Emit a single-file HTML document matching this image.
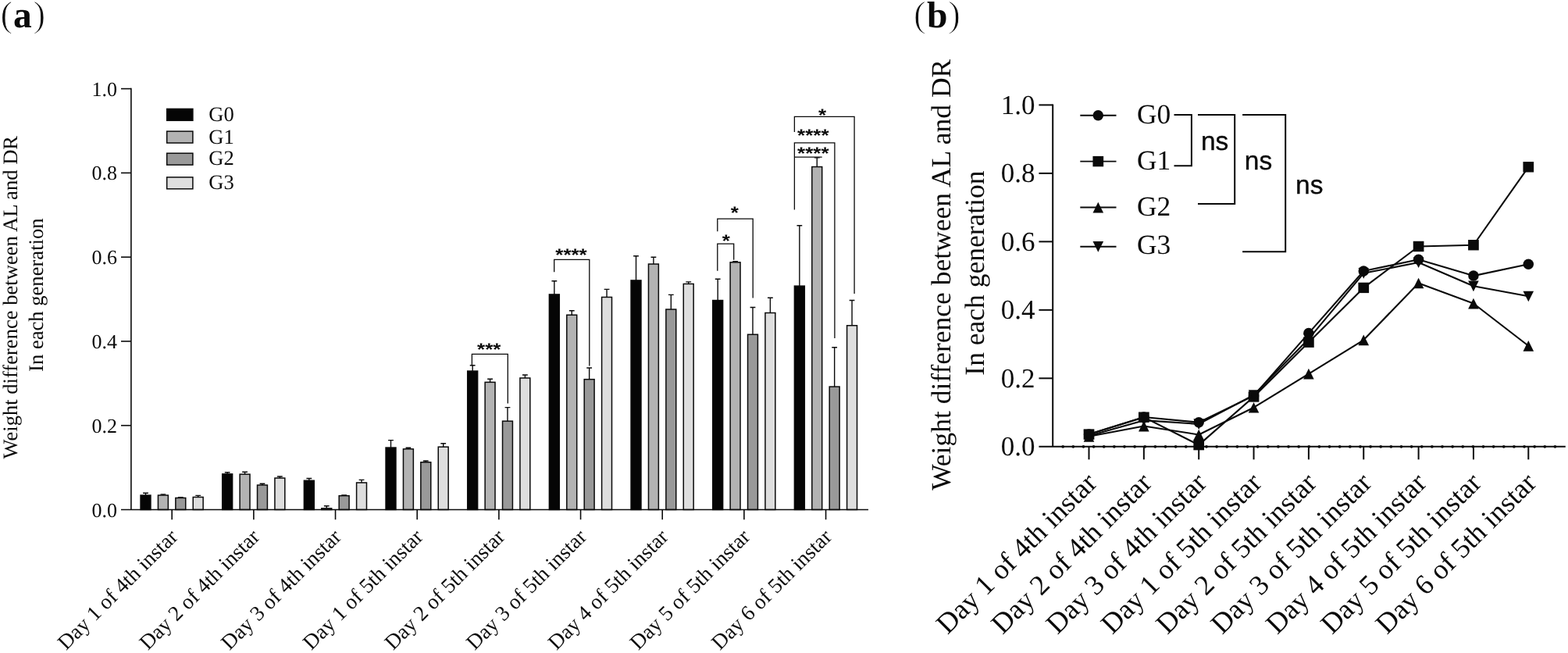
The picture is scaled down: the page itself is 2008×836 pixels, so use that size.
<!DOCTYPE html>
<html lang="en">
<head>
<meta charset="utf-8">
<title>Weight difference between AL and DR in each generation</title>
<style>
html,body{margin:0;padding:0;background:#fff;}
body{width:2008px;height:836px;overflow:hidden;}
svg{display:block;}
text{white-space:pre;}
</style>
</head>
<body>
<svg width="2008" height="836" viewBox="0 0 2008 836" text-rendering="geometricPrecision">
<rect width="2008" height="836" fill="#fff"/>
<g id="panelA" font-family='"Liberation Serif", serif' fill="#0a0a0a">
<path d="M186.50 634.05V631.30M183.10 631.30H189.90" stroke="#0a0a0a" stroke-width="1.4" fill="none"/>
<rect x="180.05" y="634.05" width="12.9" height="18.45" fill="#050505" stroke="#0a0a0a" stroke-width="1.5"/>
<path d="M208.90 634.05V632.90M205.50 632.90H212.30" stroke="#0a0a0a" stroke-width="1.4" fill="none"/>
<rect x="202.45" y="634.05" width="12.9" height="18.45" fill="#b3b3b3" stroke="#0a0a0a" stroke-width="1.5"/>
<path d="M231.30 637.45V636.70M227.90 636.70H234.70" stroke="#0a0a0a" stroke-width="1.4" fill="none"/>
<rect x="224.85" y="637.45" width="12.9" height="15.05" fill="#999999" stroke="#0a0a0a" stroke-width="1.5"/>
<path d="M253.70 636.45V634.40M250.30 634.40H257.10" stroke="#0a0a0a" stroke-width="1.4" fill="none"/>
<rect x="247.25" y="636.45" width="12.9" height="16.05" fill="#dedede" stroke="#0a0a0a" stroke-width="1.5"/>
<path d="M291.17 606.85V604.80M287.77 604.80H294.57" stroke="#0a0a0a" stroke-width="1.4" fill="none"/>
<rect x="284.72" y="606.85" width="12.9" height="45.65" fill="#050505" stroke="#0a0a0a" stroke-width="1.5"/>
<path d="M313.57 607.15V604.20M310.17 604.20H316.97" stroke="#0a0a0a" stroke-width="1.4" fill="none"/>
<rect x="307.12" y="607.15" width="12.9" height="45.35" fill="#b3b3b3" stroke="#0a0a0a" stroke-width="1.5"/>
<path d="M335.97 621.05V619.20M332.57 619.20H339.37" stroke="#0a0a0a" stroke-width="1.4" fill="none"/>
<rect x="329.52" y="621.05" width="12.9" height="31.45" fill="#999999" stroke="#0a0a0a" stroke-width="1.5"/>
<path d="M358.37 612.05V610.00M354.97 610.00H361.77" stroke="#0a0a0a" stroke-width="1.4" fill="none"/>
<rect x="351.92" y="612.05" width="12.9" height="40.45" fill="#dedede" stroke="#0a0a0a" stroke-width="1.5"/>
<path d="M395.84 615.25V612.50M392.44 612.50H399.24" stroke="#0a0a0a" stroke-width="1.4" fill="none"/>
<rect x="389.39" y="615.25" width="12.9" height="37.25" fill="#050505" stroke="#0a0a0a" stroke-width="1.5"/>
<path d="M418.24 650.85V647.80M414.84 647.80H421.64" stroke="#0a0a0a" stroke-width="1.4" fill="none"/>
<rect x="411.79" y="650.85" width="12.9" height="1.65" fill="#b3b3b3" stroke="#0a0a0a" stroke-width="1.5"/>
<path d="M440.64 634.65V634.00M437.24 634.00H444.04" stroke="#0a0a0a" stroke-width="1.4" fill="none"/>
<rect x="434.19" y="634.65" width="12.9" height="17.85" fill="#999999" stroke="#0a0a0a" stroke-width="1.5"/>
<path d="M463.04 617.95V614.40M459.64 614.40H466.44" stroke="#0a0a0a" stroke-width="1.4" fill="none"/>
<rect x="456.59" y="617.95" width="12.9" height="34.55" fill="#dedede" stroke="#0a0a0a" stroke-width="1.5"/>
<path d="M500.51 573.05V563.60M497.11 563.60H503.91" stroke="#0a0a0a" stroke-width="1.4" fill="none"/>
<rect x="494.06" y="573.05" width="12.9" height="79.45" fill="#050505" stroke="#0a0a0a" stroke-width="1.5"/>
<path d="M522.91 574.85V573.30M519.51 573.30H526.31" stroke="#0a0a0a" stroke-width="1.4" fill="none"/>
<rect x="516.46" y="574.85" width="12.9" height="77.65" fill="#b3b3b3" stroke="#0a0a0a" stroke-width="1.5"/>
<path d="M545.31 591.75V590.00M541.91 590.00H548.71" stroke="#0a0a0a" stroke-width="1.4" fill="none"/>
<rect x="538.86" y="591.75" width="12.9" height="60.75" fill="#999999" stroke="#0a0a0a" stroke-width="1.5"/>
<path d="M567.71 572.15V567.80M564.31 567.80H571.11" stroke="#0a0a0a" stroke-width="1.4" fill="none"/>
<rect x="561.26" y="572.15" width="12.9" height="80.35" fill="#dedede" stroke="#0a0a0a" stroke-width="1.5"/>
<path d="M605.18 475.05V467.70M601.78 467.70H608.58" stroke="#0a0a0a" stroke-width="1.4" fill="none"/>
<rect x="598.73" y="475.05" width="12.9" height="177.45" fill="#050505" stroke="#0a0a0a" stroke-width="1.5"/>
<path d="M627.58 489.35V485.20M624.18 485.20H630.98" stroke="#0a0a0a" stroke-width="1.4" fill="none"/>
<rect x="621.13" y="489.35" width="12.9" height="163.15" fill="#b3b3b3" stroke="#0a0a0a" stroke-width="1.5"/>
<path d="M649.98 539.15V521.60M646.58 521.60H653.38" stroke="#0a0a0a" stroke-width="1.4" fill="none"/>
<rect x="643.53" y="539.15" width="12.9" height="113.35" fill="#999999" stroke="#0a0a0a" stroke-width="1.5"/>
<path d="M672.38 483.95V480.00M668.98 480.00H675.78" stroke="#0a0a0a" stroke-width="1.4" fill="none"/>
<rect x="665.93" y="483.95" width="12.9" height="168.55" fill="#dedede" stroke="#0a0a0a" stroke-width="1.5"/>
<path d="M709.85 376.95V359.70M706.45 359.70H713.25" stroke="#0a0a0a" stroke-width="1.4" fill="none"/>
<rect x="703.40" y="376.95" width="12.9" height="275.55" fill="#050505" stroke="#0a0a0a" stroke-width="1.5"/>
<path d="M732.25 403.25V397.70M728.85 397.70H735.65" stroke="#0a0a0a" stroke-width="1.4" fill="none"/>
<rect x="725.80" y="403.25" width="12.9" height="249.25" fill="#b3b3b3" stroke="#0a0a0a" stroke-width="1.5"/>
<path d="M754.65 485.65V471.00M751.25 471.00H758.05" stroke="#0a0a0a" stroke-width="1.4" fill="none"/>
<rect x="748.20" y="485.65" width="12.9" height="166.85" fill="#999999" stroke="#0a0a0a" stroke-width="1.5"/>
<path d="M777.05 380.45V370.40M773.65 370.40H780.45" stroke="#0a0a0a" stroke-width="1.4" fill="none"/>
<rect x="770.60" y="380.45" width="12.9" height="272.05" fill="#dedede" stroke="#0a0a0a" stroke-width="1.5"/>
<path d="M814.52 358.95V327.80M811.12 327.80H817.92" stroke="#0a0a0a" stroke-width="1.4" fill="none"/>
<rect x="808.07" y="358.95" width="12.9" height="293.55" fill="#050505" stroke="#0a0a0a" stroke-width="1.5"/>
<path d="M836.92 338.05V329.30M833.52 329.30H840.32" stroke="#0a0a0a" stroke-width="1.4" fill="none"/>
<rect x="830.47" y="338.05" width="12.9" height="314.45" fill="#b3b3b3" stroke="#0a0a0a" stroke-width="1.5"/>
<path d="M859.32 396.05V377.40M855.92 377.40H862.72" stroke="#0a0a0a" stroke-width="1.4" fill="none"/>
<rect x="852.87" y="396.05" width="12.9" height="256.45" fill="#999999" stroke="#0a0a0a" stroke-width="1.5"/>
<path d="M881.72 363.45V360.90M878.32 360.90H885.12" stroke="#0a0a0a" stroke-width="1.4" fill="none"/>
<rect x="875.27" y="363.45" width="12.9" height="289.05" fill="#dedede" stroke="#0a0a0a" stroke-width="1.5"/>
<path d="M919.19 384.55V357.30M915.79 357.30H922.59" stroke="#0a0a0a" stroke-width="1.4" fill="none"/>
<rect x="912.74" y="384.55" width="12.9" height="267.95" fill="#050505" stroke="#0a0a0a" stroke-width="1.5"/>
<path d="M941.59 335.85V334.60M938.19 334.60H944.99" stroke="#0a0a0a" stroke-width="1.4" fill="none"/>
<rect x="935.14" y="335.85" width="12.9" height="316.65" fill="#b3b3b3" stroke="#0a0a0a" stroke-width="1.5"/>
<path d="M963.99 428.25V393.50M960.59 393.50H967.39" stroke="#0a0a0a" stroke-width="1.4" fill="none"/>
<rect x="957.54" y="428.25" width="12.9" height="224.25" fill="#999999" stroke="#0a0a0a" stroke-width="1.5"/>
<path d="M986.39 400.55V381.20M982.99 381.20H989.79" stroke="#0a0a0a" stroke-width="1.4" fill="none"/>
<rect x="979.94" y="400.55" width="12.9" height="251.95" fill="#dedede" stroke="#0a0a0a" stroke-width="1.5"/>
<path d="M1023.86 366.15V288.70M1020.46 288.70H1027.26" stroke="#0a0a0a" stroke-width="1.4" fill="none"/>
<rect x="1017.41" y="366.15" width="12.9" height="286.35" fill="#050505" stroke="#0a0a0a" stroke-width="1.5"/>
<path d="M1046.26 213.55V201.90M1042.86 201.90H1049.66" stroke="#0a0a0a" stroke-width="1.4" fill="none"/>
<rect x="1039.81" y="213.55" width="12.9" height="438.95" fill="#b3b3b3" stroke="#0a0a0a" stroke-width="1.5"/>
<path d="M1068.66 495.05V444.80M1065.26 444.80H1072.06" stroke="#0a0a0a" stroke-width="1.4" fill="none"/>
<rect x="1062.21" y="495.05" width="12.9" height="157.45" fill="#999999" stroke="#0a0a0a" stroke-width="1.5"/>
<path d="M1091.06 416.75V384.50M1087.66 384.50H1094.46" stroke="#0a0a0a" stroke-width="1.4" fill="none"/>
<rect x="1084.61" y="416.75" width="12.9" height="235.75" fill="#dedede" stroke="#0a0a0a" stroke-width="1.5"/>
<path d="M167.9 112.80V652.5" stroke="#0a0a0a" stroke-width="1.6" fill="none"/>
<path d="M155.0 652.5H1112.0" stroke="#0a0a0a" stroke-width="1.6" fill="none"/>
<text x="149.9" y="661.50" font-size="26" text-anchor="end">0.0</text>
<path d="M155.0 544.72H167.9" stroke="#0a0a0a" stroke-width="1.6" fill="none"/>
<text x="149.9" y="553.72" font-size="26" text-anchor="end">0.2</text>
<path d="M155.0 436.94H167.9" stroke="#0a0a0a" stroke-width="1.6" fill="none"/>
<text x="149.9" y="445.94" font-size="26" text-anchor="end">0.4</text>
<path d="M155.0 329.16H167.9" stroke="#0a0a0a" stroke-width="1.6" fill="none"/>
<text x="149.9" y="338.16" font-size="26" text-anchor="end">0.6</text>
<path d="M155.0 221.38H167.9" stroke="#0a0a0a" stroke-width="1.6" fill="none"/>
<text x="149.9" y="230.38" font-size="26" text-anchor="end">0.8</text>
<path d="M155.0 113.60H167.9" stroke="#0a0a0a" stroke-width="1.6" fill="none"/>
<text x="149.9" y="122.60" font-size="26" text-anchor="end">1.0</text>
<path d="M220.20 652.5V665.2" stroke="#0a0a0a" stroke-width="1.6" fill="none"/>
<text transform="translate(229.20 688.8) rotate(-45)" font-size="27.25" text-anchor="end">Day 1 of 4th instar</text>
<path d="M324.87 652.5V665.2" stroke="#0a0a0a" stroke-width="1.6" fill="none"/>
<text transform="translate(333.87 688.8) rotate(-45)" font-size="27.25" text-anchor="end">Day 2 of 4th instar</text>
<path d="M429.54 652.5V665.2" stroke="#0a0a0a" stroke-width="1.6" fill="none"/>
<text transform="translate(438.54 688.8) rotate(-45)" font-size="27.25" text-anchor="end">Day 3 of 4th instar</text>
<path d="M534.21 652.5V665.2" stroke="#0a0a0a" stroke-width="1.6" fill="none"/>
<text transform="translate(543.21 688.8) rotate(-45)" font-size="27.25" text-anchor="end">Day 1 of 5th instar</text>
<path d="M638.88 652.5V665.2" stroke="#0a0a0a" stroke-width="1.6" fill="none"/>
<text transform="translate(647.88 688.8) rotate(-45)" font-size="27.25" text-anchor="end">Day 2 of 5th instar</text>
<path d="M743.55 652.5V665.2" stroke="#0a0a0a" stroke-width="1.6" fill="none"/>
<text transform="translate(752.55 688.8) rotate(-45)" font-size="27.25" text-anchor="end">Day 3 of 5th instar</text>
<path d="M848.22 652.5V665.2" stroke="#0a0a0a" stroke-width="1.6" fill="none"/>
<text transform="translate(857.22 688.8) rotate(-45)" font-size="27.25" text-anchor="end">Day 4 of 5th instar</text>
<path d="M952.89 652.5V665.2" stroke="#0a0a0a" stroke-width="1.6" fill="none"/>
<text transform="translate(961.89 688.8) rotate(-45)" font-size="27.25" text-anchor="end">Day 5 of 5th instar</text>
<path d="M1057.56 652.5V665.2" stroke="#0a0a0a" stroke-width="1.6" fill="none"/>
<text transform="translate(1066.56 688.8) rotate(-45)" font-size="27.25" text-anchor="end">Day 6 of 5th instar</text>
<rect x="213.7" y="139.40" width="33.2" height="14.9" fill="#050505" stroke="#0a0a0a" stroke-width="1.5"/>
<text x="267.2" y="154.60" font-size="26.6">G0</text>
<rect x="213.7" y="168.10" width="33.2" height="14.9" fill="#b3b3b3" stroke="#0a0a0a" stroke-width="1.5"/>
<text x="267.2" y="183.80" font-size="26.6">G1</text>
<rect x="213.7" y="196.20" width="33.2" height="14.9" fill="#999999" stroke="#0a0a0a" stroke-width="1.5"/>
<text x="267.2" y="211.10" font-size="26.6">G2</text>
<rect x="213.7" y="226.90" width="33.2" height="14.9" fill="#dedede" stroke="#0a0a0a" stroke-width="1.5"/>
<text x="267.2" y="242.10" font-size="26.6">G3</text>
<text transform="translate(22.4 380.7) rotate(-90)" font-size="26.6" text-anchor="middle">Weight difference between AL and DR</text>
<text transform="translate(55.1 377.7) rotate(-90)" font-size="26.6" text-anchor="middle">In each generation</text>
<text x="0.40" y="34.3" font-size="47" stroke="#fff" stroke-width="1.0">(</text>
<text x="16.90" y="35.3" font-size="47.5" font-weight="bold">a</text>
<text x="42.60" y="34.3" font-size="47" stroke="#fff" stroke-width="1.0">)</text>
<path d="M604.4 467.5V453.3H650.3V516.5" stroke="#0a0a0a" stroke-width="1.3" fill="none"/>
<text transform="translate(626.20 455.00) scale(1 0.87)" font-family='"Liberation Sans", sans-serif' font-weight="bold" font-size="26" text-anchor="middle">***</text>
<path d="M709.7 348.3V332.3H754.8V468.6" stroke="#0a0a0a" stroke-width="1.3" fill="none"/>
<text transform="translate(731.50 333.80) scale(1 0.87)" font-family='"Liberation Sans", sans-serif' font-weight="bold" font-size="26" text-anchor="middle">****</text>
<path d="M918.8 296.2V280.1H964.2V381.6" stroke="#0a0a0a" stroke-width="1.3" fill="none"/>
<text transform="translate(940.80 279.80) scale(1 0.87)" font-family='"Liberation Sans", sans-serif' font-weight="bold" font-size="26" text-anchor="middle">*</text>
<path d="M918.8 346.8V312.1H939.7V332.8" stroke="#0a0a0a" stroke-width="1.3" fill="none"/>
<text transform="translate(929.80 316.20) scale(1 0.87)" font-family='"Liberation Sans", sans-serif' font-weight="bold" font-size="26" text-anchor="middle">*</text>
<path d="M1017.4 169V149.3H1094.1V376" stroke="#0a0a0a" stroke-width="1.3" fill="none"/>
<text transform="translate(1053.00 155.40) scale(1 0.87)" font-family='"Liberation Sans", sans-serif' font-weight="bold" font-size="26" text-anchor="middle">*</text>
<path d="M1017.4 268.4V182.8H1068.9V433" stroke="#0a0a0a" stroke-width="1.3" fill="none"/>
<text transform="translate(1041.30 181.20) scale(1 0.87)" font-family='"Liberation Sans", sans-serif' font-weight="bold" font-size="26" text-anchor="middle">****</text>
<path d="M1017.4 201.2H1052.7" stroke="#0a0a0a" stroke-width="1.3" fill="none"/>
<text transform="translate(1041.30 203.90) scale(1 0.87)" font-family='"Liberation Sans", sans-serif' font-weight="bold" font-size="26" text-anchor="middle">****</text>
</g>
<g id="panelB" font-family='"Liberation Serif", serif' fill="#0a0a0a">
<path d="M1348.2 133.50V571.8" stroke="#0a0a0a" stroke-width="2.0" fill="none"/>
<path d="M1330.4 571.8H2004.8" stroke="#0a0a0a" stroke-width="2.0" fill="none"/>
<path d="M1361.2 571.8H1992.5" stroke="#0a0a0a" stroke-width="3.8" stroke-linecap="round" stroke-dasharray="0 13.13" fill="none"/>
<text x="1325.6" y="583.40" font-size="35" text-anchor="end">0.0</text>
<path d="M1330.4 484.32H1348.2" stroke="#0a0a0a" stroke-width="2.0" fill="none"/>
<text x="1325.6" y="495.92" font-size="35" text-anchor="end">0.2</text>
<path d="M1330.4 396.84H1348.2" stroke="#0a0a0a" stroke-width="2.0" fill="none"/>
<text x="1325.6" y="408.44" font-size="35" text-anchor="end">0.4</text>
<path d="M1330.4 309.36H1348.2" stroke="#0a0a0a" stroke-width="2.0" fill="none"/>
<text x="1325.6" y="320.96" font-size="35" text-anchor="end">0.6</text>
<path d="M1330.4 221.88H1348.2" stroke="#0a0a0a" stroke-width="2.0" fill="none"/>
<text x="1325.6" y="233.48" font-size="35" text-anchor="end">0.8</text>
<path d="M1330.4 134.40H1348.2" stroke="#0a0a0a" stroke-width="2.0" fill="none"/>
<text x="1325.6" y="146.00" font-size="35" text-anchor="end">1.0</text>
<path d="M1394.50 571.8V588.3" stroke="#0a0a0a" stroke-width="2.0" fill="none"/>
<text transform="translate(1406.50 620.2) rotate(-45)" font-size="36.4" text-anchor="end">Day 1 of 4th instar</text>
<path d="M1464.85 571.8V588.3" stroke="#0a0a0a" stroke-width="2.0" fill="none"/>
<text transform="translate(1476.85 620.2) rotate(-45)" font-size="36.4" text-anchor="end">Day 2 of 4th instar</text>
<path d="M1535.20 571.8V588.3" stroke="#0a0a0a" stroke-width="2.0" fill="none"/>
<text transform="translate(1547.20 620.2) rotate(-45)" font-size="36.4" text-anchor="end">Day 3 of 4th instar</text>
<path d="M1605.55 571.8V588.3" stroke="#0a0a0a" stroke-width="2.0" fill="none"/>
<text transform="translate(1617.55 620.2) rotate(-45)" font-size="36.4" text-anchor="end">Day 1 of 5th instar</text>
<path d="M1675.90 571.8V588.3" stroke="#0a0a0a" stroke-width="2.0" fill="none"/>
<text transform="translate(1687.90 620.2) rotate(-45)" font-size="36.4" text-anchor="end">Day 2 of 5th instar</text>
<path d="M1746.25 571.8V588.3" stroke="#0a0a0a" stroke-width="2.0" fill="none"/>
<text transform="translate(1758.25 620.2) rotate(-45)" font-size="36.4" text-anchor="end">Day 3 of 5th instar</text>
<path d="M1816.60 571.8V588.3" stroke="#0a0a0a" stroke-width="2.0" fill="none"/>
<text transform="translate(1828.60 620.2) rotate(-45)" font-size="36.4" text-anchor="end">Day 4 of 5th instar</text>
<path d="M1886.95 571.8V588.3" stroke="#0a0a0a" stroke-width="2.0" fill="none"/>
<text transform="translate(1898.95 620.2) rotate(-45)" font-size="36.4" text-anchor="end">Day 5 of 5th instar</text>
<path d="M1957.30 571.8V588.3" stroke="#0a0a0a" stroke-width="2.0" fill="none"/>
<text transform="translate(1969.30 620.2) rotate(-45)" font-size="36.4" text-anchor="end">Day 6 of 5th instar</text>
<path d="M1394.50 556.05L1464.85 533.96L1535.20 540.74L1605.55 506.63L1675.90 426.58L1746.25 346.98L1816.60 332.32L1886.95 353.10L1957.30 338.23" stroke="#0a0a0a" stroke-width="2.1" fill="none" stroke-linejoin="round"/>
<circle cx="1394.50" cy="556.05" r="6.75"/>
<circle cx="1464.85" cy="533.96" r="6.75"/>
<circle cx="1535.20" cy="540.74" r="6.75"/>
<circle cx="1605.55" cy="506.63" r="6.75"/>
<circle cx="1675.90" cy="426.58" r="6.75"/>
<circle cx="1746.25" cy="346.98" r="6.75"/>
<circle cx="1816.60" cy="332.32" r="6.75"/>
<circle cx="1886.95" cy="353.10" r="6.75"/>
<circle cx="1957.30" cy="338.23" r="6.75"/>
<path d="M1394.50 556.05L1464.85 534.18L1535.20 569.61L1605.55 507.94L1675.90 438.17L1746.25 368.41L1816.60 315.48L1886.95 313.73L1957.30 213.79" stroke="#0a0a0a" stroke-width="2.1" fill="none" stroke-linejoin="round"/>
<rect x="1387.65" y="549.35" width="13.7" height="13.4"/>
<rect x="1458.00" y="527.48" width="13.7" height="13.4"/>
<rect x="1528.35" y="562.91" width="13.7" height="13.4"/>
<rect x="1598.70" y="501.24" width="13.7" height="13.4"/>
<rect x="1669.05" y="431.47" width="13.7" height="13.4"/>
<rect x="1739.40" y="361.71" width="13.7" height="13.4"/>
<rect x="1809.75" y="308.78" width="13.7" height="13.4"/>
<rect x="1880.10" y="307.03" width="13.7" height="13.4"/>
<rect x="1950.45" y="207.09" width="13.7" height="13.4"/>
<path d="M1394.50 558.77L1464.85 545.56L1535.20 556.49L1605.55 521.72L1675.90 478.63L1746.25 435.33L1816.60 362.46L1886.95 388.53L1957.30 442.77" stroke="#0a0a0a" stroke-width="2.1" fill="none" stroke-linejoin="round"/>
<path d="M1387.70 565.67H1401.30L1394.50 551.97Z"/>
<path d="M1458.05 552.46H1471.65L1464.85 538.76Z"/>
<path d="M1528.40 563.39H1542.00L1535.20 549.69Z"/>
<path d="M1598.75 528.62H1612.35L1605.55 514.92Z"/>
<path d="M1669.10 485.53H1682.70L1675.90 471.83Z"/>
<path d="M1739.45 442.23H1753.05L1746.25 428.53Z"/>
<path d="M1809.80 369.36H1823.40L1816.60 355.66Z"/>
<path d="M1880.15 395.43H1893.75L1886.95 381.73Z"/>
<path d="M1950.50 449.67H1964.10L1957.30 435.97Z"/>
<path d="M1394.50 557.98L1464.85 538.16L1535.20 542.93L1605.55 505.75L1675.90 433.80L1746.25 349.82L1816.60 336.04L1886.95 366.22L1957.30 379.34" stroke="#0a0a0a" stroke-width="2.1" fill="none" stroke-linejoin="round"/>
<path d="M1387.70 551.38H1401.30L1394.50 564.98Z"/>
<path d="M1458.05 531.56H1471.65L1464.85 545.16Z"/>
<path d="M1528.40 536.33H1542.00L1535.20 549.93Z"/>
<path d="M1598.75 499.15H1612.35L1605.55 512.75Z"/>
<path d="M1669.10 427.20H1682.70L1675.90 440.80Z"/>
<path d="M1739.45 343.22H1753.05L1746.25 356.82Z"/>
<path d="M1809.80 329.44H1823.40L1816.60 343.04Z"/>
<path d="M1880.15 359.62H1893.75L1886.95 373.22Z"/>
<path d="M1950.50 372.74H1964.10L1957.30 386.34Z"/>
<path d="M1383.3 147.7H1429.5" stroke="#0a0a0a" stroke-width="1.9" fill="none"/>
<circle cx="1406.30" cy="147.70" r="6.75"/>
<text x="1456.0" y="158.0" font-size="35.4">G0</text>
<path d="M1383.3 206.6H1429.5" stroke="#0a0a0a" stroke-width="1.9" fill="none"/>
<rect x="1399.45" y="199.90" width="13.7" height="13.4"/>
<text x="1456.0" y="216.9" font-size="35.4">G1</text>
<path d="M1383.3 265.5H1429.5" stroke="#0a0a0a" stroke-width="1.9" fill="none"/>
<path d="M1399.50 272.40H1413.10L1406.30 258.70Z"/>
<text x="1456.0" y="275.5" font-size="35.4">G2</text>
<path d="M1383.3 315.7H1429.5" stroke="#0a0a0a" stroke-width="1.9" fill="none"/>
<path d="M1399.50 309.10H1413.10L1406.30 322.70Z"/>
<text x="1456.0" y="325.4" font-size="35.4">G3</text>
<path d="M1503.5 146.9H1525.9V212.2H1503.5" stroke="#0a0a0a" stroke-width="2.0" fill="none"/>
<path d="M1534.0 146.9H1581.2V261.0H1534.0" stroke="#0a0a0a" stroke-width="2.0" fill="none"/>
<path d="M1591.1 146.9H1646.2V322.3H1591.1" stroke="#0a0a0a" stroke-width="2.0" fill="none"/>
<text x="1537.9" y="191.6" font-family='"Liberation Sans", sans-serif' font-size="33.5" stroke="#0a0a0a" stroke-width="0.35">ns</text>
<text x="1593.8" y="216.8" font-family='"Liberation Sans", sans-serif' font-size="33.5" stroke="#0a0a0a" stroke-width="0.35">ns</text>
<text x="1659.0" y="247.6" font-family='"Liberation Sans", sans-serif' font-size="33.5" stroke="#0a0a0a" stroke-width="0.35">ns</text>
<text transform="translate(1216.5 351.8) rotate(-90)" font-size="35.5" text-anchor="middle">Weight difference between AL and DR</text>
<text transform="translate(1260.3 349.6) rotate(-90)" font-size="35.5" text-anchor="middle">In each generation</text>
<text x="1170.00" y="34.3" font-size="47" stroke="#fff" stroke-width="1.0">(</text>
<text x="1187.00" y="35.3" font-size="47.5" font-weight="bold">b</text>
<text x="1214.30" y="34.3" font-size="47" stroke="#fff" stroke-width="1.0">)</text>
</g>
</svg>
</body>
</html>
